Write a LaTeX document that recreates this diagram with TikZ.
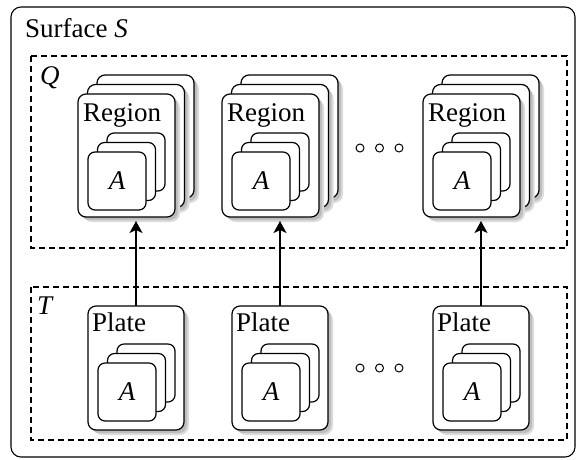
\documentclass[tikz,border=0pt]{standalone}
\usepackage{fontspec}
\setmainfont{Liberation Serif}
\newfontfamily\tms{Liberation Serif}
\usetikzlibrary{arrows.meta}
\definecolor{shadowc}{gray}{0.74}
\definecolor{shadowl}{gray}{0.86}
\tikzset{
  boxline/.style={draw=black, line width=1.2pt, fill=white, inner sep=0pt, outer sep=0pt, anchor=north west},
  regbox/.style={boxline, rounded corners=8pt},
  abox/.style={boxline, rounded corners=7pt},
  frame/.style={draw=black, line width=1.2pt, dash pattern=on 6pt off 4pt},
  outerframe/.style={draw=black, line width=1.1pt, rounded corners=10pt},
  lbl/.style={inner sep=0pt, anchor=base west, font=\tms\fontsize{27}{32}\selectfont},
  alabel/.style={inner sep=0pt, font=\tms\fontsize{27}{32}\selectfont\itshape},
  dot/.style={draw=black, circle, line width=1pt, minimum size=8pt, inner sep=0pt},
  conn/.style={draw=black, line width=1.3pt, -{Stealth[length=12pt, width=13pt, inset=3pt]}},
}
% shadowed rounded box: name, x, y, w, h
\newcommand\shadowbox[5]{%
  \fill[shadowl, rounded corners=9pt] (#2+5,#3+5) rectangle ++(#4,#5);
  \fill[shadowc, rounded corners=8pt] (#2+3,#3+3) rectangle ++(#4,#5);
  \node[regbox, minimum width=#4pt, minimum height=#5pt] (#1) at (#2,#3) {};
}
% stack of three A boxes, front top-left at (x,y): prefix, x, y
\newcommand\astack[3]{%
  \node[abox, minimum width=58pt, minimum height=58pt] (#1c) at (#2+19,#3-19) {};
  \node[abox, minimum width=58pt, minimum height=58pt] (#1b) at (#2+9.5,#3-9.5) {};
  \node[abox, minimum width=58pt, minimum height=58pt] (#1a) at (#2,#3) {};
  \node[alabel] (#1t) at (#1a.center) {A};
}
% region stack, front top-left at (x,y): prefix, x, y
\newcommand\regionstack[3]{%
  \shadowbox{#1c}{#2+19}{#3-19}{97}{123}
  \shadowbox{#1b}{#2+9.5}{#3-9.5}{97}{123}
  \shadowbox{#1}{#2}{#3}{97}{123}
  \node[lbl] (#1l) at (#2+5,#3+27) {Region};
  \astack{#1i}{#2+10}{#3+58}
}
% plate, top-left at (x,y): prefix, x, y
\newcommand\plate[3]{%
  \shadowbox{#1}{#2}{#3}{96}{124}
  \node[lbl] (#1l) at (#2+4,#3+25) {Plate};
  \astack{#1i}{#2+10}{#3+57}
}
\begin{document}
\begin{tikzpicture}[x=1pt, y=-1pt]
\useasboundingbox (0,0) rectangle (577,459);
% outer surface
\draw[outerframe] (11,7) rectangle (575,457);
\node[lbl] (surf) at (25,37) {Surface \textit{S}};
% Q frame
\draw[frame] (31,56) rectangle (567,248);
\node[lbl] (qlbl) at (40,84) {\textit{Q}};
% T frame
\draw[frame] (31,287) rectangle (567,440);
\node[lbl] (tlbl) at (37,314) {\textit{T}};
% regions
\regionstack{ra}{78}{94}
\regionstack{rb}{222}{94}
\regionstack{rc}{423}{94}
% plates
\plate{pa}{88}{306}
\plate{pb}{232}{306}
\plate{pc}{433}{306}
% dots
\node[dot] (qd1) at (360,148) {};
\node[dot] (qd2) at (379.5,148) {};
\node[dot] (qd3) at (399,148) {};
\node[dot] (td1) at (360,368) {};
\node[dot] (td2) at (379.5,368) {};
\node[dot] (td3) at (399,368) {};
% connectors
\draw[conn] (pa.north) -- ([yshift=-4pt]pa.north |- ra.south);
\draw[conn] (pb.north) -- ([yshift=-4pt]pb.north |- rb.south);
\draw[conn] (pc.north) -- ([yshift=-4pt]pc.north |- rc.south);
\end{tikzpicture}
\end{document}
